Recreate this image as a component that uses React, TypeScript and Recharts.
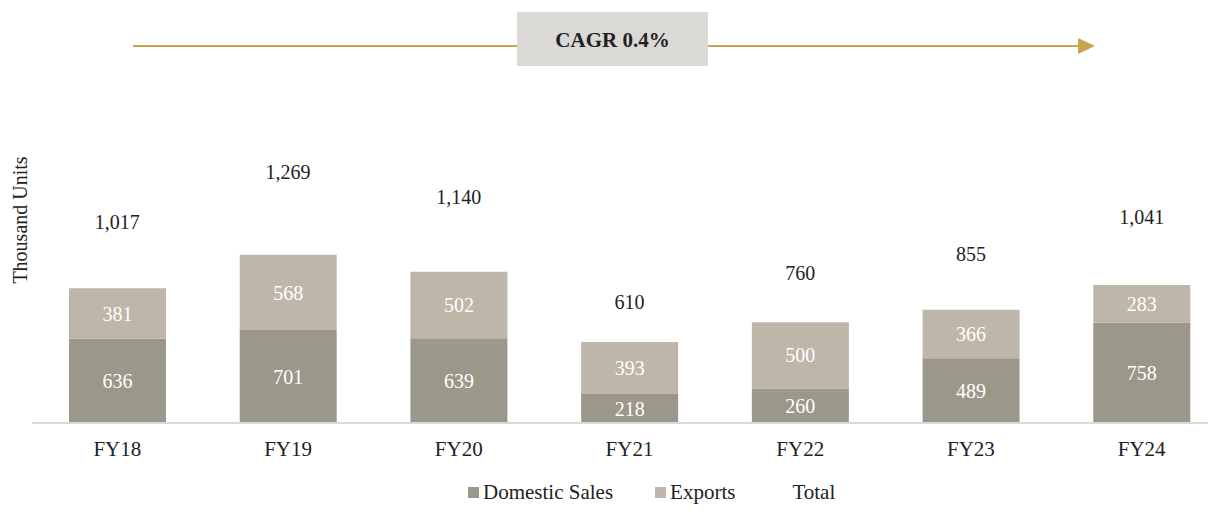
import React from 'react';
import { Bar, Line, XAxis, YAxis, LabelList, Legend, ComposedChart } from 'recharts';

const years = ['FY18', 'FY19', 'FY20', 'FY21', 'FY22', 'FY23', 'FY24'];
const domesticSales = [636, 701, 639, 218, 260, 489, 758];
const exportsSales = [381, 568, 502, 393, 500, 366, 283];
const totals = [1017, 1269, 1140, 610, 760, 855, 1041];

const data = years.map((year, i) => ({
  year,
  domestic: domesticSales[i],
  exports: exportsSales[i],
  total: totals[i],
}));

const FONT = '"Liberation Serif", "Times New Roman", serif';
const DOMESTIC = '#9b9789';
const EXPORTS = '#beb6a9';
const GOLD = '#c9a44e';

const legendItems = [
  { label: 'Domestic Sales', color: DOMESTIC },
  { label: 'Exports', color: EXPORTS },
  { label: 'Total', color: 'transparent' },
];

const renderLegend = () => (
  <div
    style={{
      height: 30,
      display: 'flex',
      alignItems: 'center',
      paddingLeft: 436,
      fontFamily: FONT,
      fontSize: 21,
      color: '#222',
    }}
  >
    {legendItems.map((item) => (
      <div key={item.label} style={{ display: 'flex', alignItems: 'center', marginRight: 42 }}>
        <span style={{ width: 11, height: 11, background: item.color, marginRight: 4 }} />
        <span style={{ fontFamily: FONT }}>{item.label}</span>
      </div>
    ))}
  </div>
);

export default function App() {
  return (
    <div
      style={{
        position: 'relative',
        margin: -8,
        width: 1216,
        height: 528,
        overflow: 'hidden',
        background: '#fff',
        fontFamily: FONT,
      }}
    >
      <ComposedChart
        width={1240}
        height={528}
        data={data}
        margin={{ top: 130, right: 13, left: 32, bottom: 21 }}
        barSize={97}
      >
        <XAxis
          dataKey='year'
          height={54}
          tickLine={false}
          tickMargin={12}
          axisLine={{ stroke: '#d9d9d9', strokeWidth: 2 }}
          tick={{ fill: '#222', fontSize: 21, fontFamily: FONT }}
        />
        <YAxis yAxisId='left' hide domain={[0, 2210]} />
        <YAxis yAxisId='total' hide domain={[0, 1480]} orientation='right' />
        <Legend verticalAlign='bottom' content={renderLegend} />
        <Bar yAxisId='left' dataKey='domestic' stackId='a' fill={DOMESTIC} isAnimationActive={false}>
          <LabelList dataKey='domestic' position='center' fill='#fff' fontSize={20} fontFamily={FONT} />
        </Bar>
        <Bar yAxisId='left' dataKey='exports' stackId='a' fill={EXPORTS} isAnimationActive={false}>
          <LabelList dataKey='exports' position='center' fill='#fff' fontSize={20} fontFamily={FONT} />
        </Bar>
        <Line
          yAxisId='total'
          dataKey='total'
          stroke='none'
          dot={false}
          activeDot={false}
          isAnimationActive={false}
        >
          <LabelList
            dataKey='total'
            position='center'
            fill='#222'
            fontSize={20}
            fontFamily={FONT}
            formatter={(v: any) => Number(v).toLocaleString('en-US')}
          />
        </Line>
      </ComposedChart>
      <svg
        width={1216}
        height={528}
        style={{ position: 'absolute', left: 0, top: 0, pointerEvents: 'none' }}
      >
        <line x1={133} y1={46} x2={1082} y2={46} stroke={GOLD} strokeWidth={2} />
        <polygon points='1078,38 1095,46 1078,54' fill={GOLD} />
        <rect x={517} y={12} width={191} height={54} fill='#dad9d5' />
        <text
          x={612.5}
          y={40}
          textAnchor='middle'
          dominantBaseline='central'
          fontFamily={FONT}
          fontSize={21}
          fontWeight='bold'
          fill='#222'
        >
          CAGR 0.4%
        </text>
        <text
          x={20}
          y={220}
          transform='rotate(-90 20 220)'
          textAnchor='middle'
          dominantBaseline='central'
          fontFamily={FONT}
          fontSize={20}
          fill='#222'
        >
          Thousand Units
        </text>
        <polygon points='885,521 903,530 885,539' fill={GOLD} />
      </svg>
    </div>
  );
}
